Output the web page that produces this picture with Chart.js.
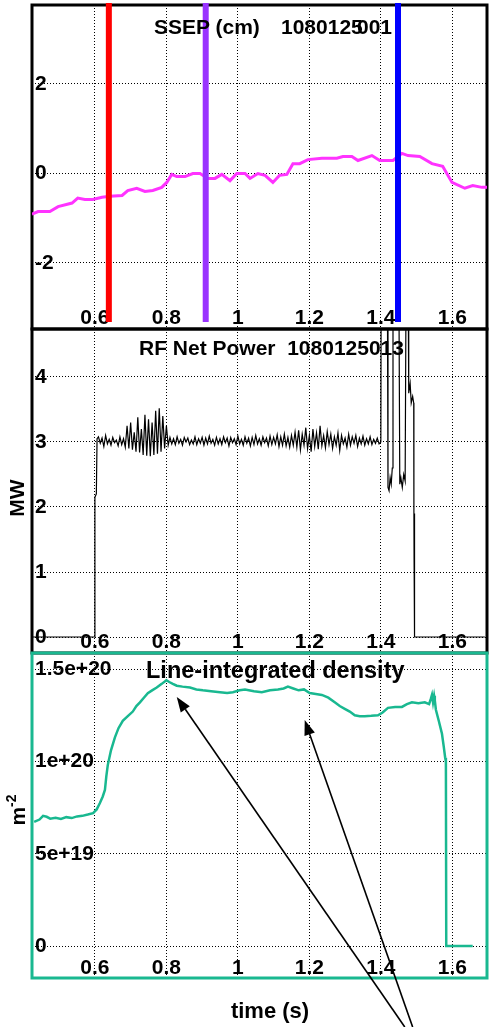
<!DOCTYPE html>
<html>
<head>
<meta charset="utf-8">
<title>SSEP / RF power / density</title>
<script src="https://cdn.jsdelivr.net/npm/chart.js@4.4.1/dist/chart.umd.min.js"></script>
<style>
  html, body { margin: 0; padding: 0; background: #fff; }
  #page { position: relative; width: 490px; height: 1027px; overflow: hidden; font-family: "Liberation Sans", Arial, sans-serif; }
  .layer { position: absolute; left: 0; top: 0; width: 490px; height: 1027px; }
  .txt { position: absolute; white-space: pre; color: #000; font-weight: bold; line-height: 1; }
  .rot { transform: translate(-50%, -50%) rotate(-90deg); }
  .mid { transform: translate(-50%, -50%); }
  sup { font-size: 14px; vertical-align: 9px; }
</style>
</head>
<body>
<div id="page">
  <div class="layer"><canvas id="sep-chart"></canvas></div>
  <div class="layer"><canvas id="rf-chart"></canvas></div>
  <div class="layer"><canvas id="den-chart"></canvas></div>

  <div class="txt" style="left:154px; top:15.5px; font-size:21px;">SSEP (cm)</div>
  <div class="txt" style="left:281px; top:15.5px; font-size:21px;">1080125</div>
  <div class="txt" style="left:357px; top:15.5px; font-size:21px;">001</div>
  <div class="txt" style="left:139px; top:336.5px; font-size:21px;">RF Net Power  1080125013</div>
  <div class="txt" style="left:146px; top:658.5px; font-size:23.5px;">Line-integrated density</div>
  <div class="txt rot" style="left:15.5px; top:498px; font-size:21px;">MW</div>
  <div class="txt rot" style="left:16px; top:810px; font-size:21px;">m<sup>-2</sup></div>
  <div class="txt mid" style="left:270px; top:1011px; font-size:22px;">time (s)</div>
</div>

<script>
// Shared time axis
const timeMin = 0.424;
const timeMax = 1.697;
const timeTicks = [0.6, 0.8, 1, 1.2, 1.4, 1.6];
const timeTickLabels = ['0.6', '0.8', '1', '1.2', '1.4', '1.6'];

// Panel 1: SSEP (cm)
const sepTicks = [-2, 0, 2];
const sepTickLabels = ['-2', '0', '2'];
const sepTimes = [0.424, 0.441, 0.474, 0.497, 0.536, 0.552, 0.572, 0.594, 0.620, 0.642,
  0.676, 0.692, 0.717, 0.740, 0.762, 0.787, 0.801, 0.815, 0.829, 0.852,
  0.874, 0.894, 0.916, 0.936, 0.955, 0.978, 0.997, 1.020, 1.034, 1.056,
  1.076, 1.098, 1.117, 1.137, 1.154, 1.173, 1.196, 1.235, 1.277, 1.294,
  1.319, 1.336, 1.375, 1.397, 1.434, 1.459, 1.476, 1.509, 1.543, 1.573,
  1.599, 1.635, 1.657, 1.683, 1.705];
const sepValues = [-0.91, -0.85, -0.85, -0.74, -0.66, -0.55, -0.58, -0.58, -0.53, -0.51,
  -0.49, -0.38, -0.33, -0.40, -0.38, -0.31, -0.20, -0.02, -0.07, -0.07,
  0, 0, -0.11, -0.11, -0.02, -0.16, 0, 0, -0.11, 0,
  -0.04, -0.20, -0.04, -0.02, 0.22, 0.22, 0.31, 0.34, 0.34, 0.38,
  0.38, 0.29, 0.40, 0.29, 0.29, 0.45, 0.40, 0.38, 0.22, 0.16,
  -0.20, -0.33, -0.27, -0.31, -0.31];
const markerTimes = [0.639, 0.91, 1.448];
const markerColors = ['#ff0000', '#9933ff', '#0000ff'];

// Panel 2: RF net power (MW)
const rfTicks = [0, 1, 2, 3, 4];
const rfTickLabels = ['0', '1', '2', '3', '4'];
const rfLeadTimes = [0.424, 0.600, 0.600, 0.604, 0.606];
const rfLeadValues = [0, 0, 2.15, 2.2, 3.05];
// sampled every 5 ms from 0.61 s to 1.395 s
const rfNoiseStart = 0.61;
const rfNoiseStep = 0.005;
const rfNoiseValues = [
  3.08, 2.98, 3.06, 2.93, 3.10, 2.97, 3.04, 2.95, 3.07, 2.99, 3.03, 2.94, 3.08, 2.96, 3.05, 2.92,
  3.25, 2.90, 3.30, 2.88, 3.15, 2.85, 3.38, 2.84, 3.20, 2.80, 3.42, 2.79, 3.35, 2.78, 3.30, 2.80,
  3.48, 2.82, 3.52, 2.85, 3.40, 2.90, 3.25, 2.95,
  3.07, 2.97, 3.05, 2.96, 3.08, 2.98, 3.04, 2.95, 3.07, 3.00, 3.06, 2.96, 3.03, 2.97, 3.08, 2.96,
  3.05, 2.98, 3.07, 2.95, 3.06, 2.97, 3.09, 2.98, 3.04, 2.95, 3.07, 2.97, 3.05, 2.96, 3.08, 2.99,
  3.06, 2.94, 3.07, 2.99, 3.05, 2.96, 3.09, 2.97, 3.04, 2.95, 3.08, 2.98, 3.06, 2.94, 3.07, 2.96,
  3.10, 2.97, 3.05, 2.95, 3.08, 2.99, 3.06, 2.94, 3.09, 2.96, 3.07, 2.97, 3.11, 2.93, 3.08, 2.95,
  3.12, 2.94, 3.07, 2.92, 3.10, 2.95,
  3.15, 2.92, 3.18, 2.88, 3.12, 2.95, 3.22, 2.90, 3.10, 2.85, 3.20, 2.93, 3.14, 2.89, 3.25, 2.94,
  3.10, 2.91, 3.16, 2.96, 3.12, 2.90, 3.08, 2.95, 3.14, 2.87, 3.10, 2.97, 3.06, 2.92, 3.12, 2.95,
  3.08, 2.98, 3.10, 2.93, 3.06, 2.97, 3.09, 2.95, 3.05, 2.97, 3.08, 2.96, 3.04, 2.98, 3.06, 2.97];
const rfTailTimes = [1.400, 1.401, 1.418, 1.420, 1.423, 1.426, 1.429, 1.432, 1.434, 1.450,
  1.453, 1.456, 1.460, 1.464, 1.468, 1.471, 1.476, 1.478, 1.482, 1.485,
  1.489, 1.492, 1.4925, 1.493, 1.4935, 1.494, 1.4945, 1.495, 1.691];
const rfTailValues = [3.0, 6, 6, 2.3, 2.25, 2.45, 2.35, 2.6, 6, 6,
  2.35, 2.45, 2.3, 2.5, 2.4, 6, 6, 3.75, 3.9, 3.6,
  3.7, 3.6, 1.95, 1.2, 1.9, 1.15, 1.5, 0, 0];

// Panel 3: line-integrated density (m^-2)
const denTicks = [0, 5e19, 1e20, 1.5e20];
const denTickLabels = ['0', '5e+19', '1e+20', '1.5e+20'];
const denTimes = [0.430, 0.445, 0.455, 0.465, 0.475, 0.490, 0.505, 0.520, 0.535, 0.550,
  0.565, 0.580, 0.595, 0.605, 0.614, 0.622, 0.628, 0.632, 0.636, 0.645,
  0.656, 0.666, 0.678, 0.692, 0.706, 0.716, 0.726, 0.737, 0.748, 0.760,
  0.773, 0.787, 0.800, 0.808, 0.818, 0.829, 0.845, 0.866, 0.884, 0.902,
  0.925, 0.950, 0.970, 0.986, 1.005, 1.020, 1.045, 1.067, 1.090, 1.112,
  1.128, 1.140, 1.155, 1.170, 1.185, 1.201, 1.218, 1.235, 1.253, 1.271,
  1.285, 1.299, 1.313, 1.327, 1.341, 1.355, 1.373, 1.392, 1.405, 1.420,
  1.440, 1.459, 1.473, 1.487, 1.505, 1.523, 1.535, 1.540, 1.543, 1.546,
  1.549, 1.551, 1.554, 1.562, 1.571, 1.576, 1.580, 1.582, 1.583, 1.657];
const denValues = [0.672e20, 0.685e20, 0.705e20, 0.700e20, 0.690e20, 0.695e20, 0.688e20, 0.698e20, 0.693e20, 0.702e20,
  0.705e20, 0.712e20, 0.720e20, 0.740e20, 0.775e20, 0.810e20, 0.845e20, 0.920e20, 0.980e20, 1.060e20,
  1.130e20, 1.180e20, 1.220e20, 1.245e20, 1.270e20, 1.300e20, 1.320e20, 1.345e20, 1.370e20, 1.385e20,
  1.400e20, 1.420e20, 1.440e20, 1.430e20, 1.420e20, 1.410e20, 1.405e20, 1.400e20, 1.390e20, 1.385e20,
  1.380e20, 1.375e20, 1.370e20, 1.375e20, 1.385e20, 1.390e20, 1.380e20, 1.375e20, 1.385e20, 1.390e20,
  1.395e20, 1.405e20, 1.395e20, 1.385e20, 1.390e20, 1.370e20, 1.365e20, 1.360e20, 1.345e20, 1.320e20,
  1.300e20, 1.285e20, 1.270e20, 1.250e20, 1.245e20, 1.245e20, 1.247e20, 1.250e20, 1.265e20, 1.290e20,
  1.295e20, 1.295e20, 1.310e20, 1.320e20, 1.315e20, 1.320e20, 1.310e20, 1.340e20, 1.360e20, 1.320e20,
  1.355e20, 1.330e20, 1.280e20, 1.220e20, 1.150e20, 1.080e20, 1.020e20, 1.000e20, 0, 0];
// annotation arrows (time, density) from tail to tip
const arrowTips = [[0.829, 1.349e20], [1.187, 1.224e20]];
const arrowTails = [[1.467, -4.39e19], [1.489, -4.39e19]];

const tickFont = { family: '"Liberation Sans", Arial, sans-serif', size: 21, weight: 'bold', lineHeight: 1.2 };

function pairs(xs, ys) {
    return xs.map((x, i) => ({ x: x, y: ys[i] }));
}

function fixedTicks(values) {
    return axis => { axis.ticks = values.map(v => ({ value: v })); };
}

function noPadding(axis) {
    axis.paddingLeft = 0;
    axis.paddingRight = 0;
    axis.paddingTop = 0;
    axis.paddingBottom = 0;
}

// Frame round the plot area
const framePlugin = {
    id: 'frame',
    beforeDatasetsDraw(chart, args, opts) {
        const a = chart.chartArea;
        const ctx = chart.ctx;
        ctx.save();
        ctx.strokeStyle = opts.color;
        ctx.lineWidth = opts.width;
        ctx.strokeRect(a.left, a.top, a.right - a.left, a.bottom - a.top);
        ctx.restore();
    }
};

// Arrows pointing at the density trace
const arrowPlugin = {
    id: 'arrows',
    afterDraw(chart) {
        const { ctx, scales: { x, y } } = chart;
        ctx.save();
        ctx.strokeStyle = '#000';
        ctx.fillStyle = '#000';
        ctx.lineWidth = 1.6;
        arrowTips.forEach((tip, i) => {
            const x1 = x.getPixelForValue(arrowTails[i][0]);
            const y1 = y.getPixelForValue(arrowTails[i][1]);
            const x2 = x.getPixelForValue(tip[0]);
            const y2 = y.getPixelForValue(tip[1]);
            const ang = Math.atan2(y2 - y1, x2 - x1);
            const len = 15, half = 5.5;
            const bx = x2 - len * Math.cos(ang);
            const by = y2 - len * Math.sin(ang);
            ctx.beginPath();
            ctx.moveTo(x1, y1);
            ctx.lineTo(bx, by);
            ctx.stroke();
            ctx.beginPath();
            ctx.moveTo(x2, y2);
            ctx.lineTo(bx + half * Math.sin(ang), by - half * Math.cos(ang));
            ctx.lineTo(bx - half * Math.sin(ang), by + half * Math.cos(ang));
            ctx.closePath();
            ctx.fill();
        });
        ctx.restore();
    }
};

function panelOptions(cfg) {
    return {
        responsive: true,
        maintainAspectRatio: false,
        animation: false,
        events: [],
        layout: { padding: cfg.padding },
        plugins: {
            legend: { display: false },
            tooltip: { enabled: false },
            frame: { color: cfg.frameColor, width: 3 }
        },
        scales: {
            x: {
                type: 'linear',
                axis: 'x',
                min: timeMin,
                max: timeMax,
                position: { y: cfg.xLabelAt },
                afterBuildTicks: fixedTicks(timeTicks),
                afterFit: noPadding,
                grid: { color: '#000', lineWidth: 1, drawTicks: false },
                border: { display: false, dash: [1, 2] },
                ticks: {
                    padding: 0, maxRotation: 0, autoSkip: false, color: '#000', font: tickFont,
                    callback: (v, i) => timeTickLabels[i]
                }
            },
            y: {
                type: 'linear',
                position: 'left',
                min: cfg.yMin,
                max: cfg.yMax,
                afterBuildTicks: fixedTicks(cfg.yTicks),
                afterFit: axis => { noPadding(axis); axis.width = 0; },
                grid: { color: '#000', lineWidth: 1, drawTicks: false },
                border: { display: false, dash: [1, 2] },
                ticks: {
                    mirror: true, padding: 3, color: '#000', font: tickFont,
                    callback: (v, i) => cfg.yLabels[i]
                }
            }
        }
    };
}

function createSepChart() {
    const markerTop = 3.81;
    const markerBottom = -3.32;
    const markers = markerTimes.map((t, i) => ({
        data: [{ x: t, y: markerTop }, { x: t, y: markerBottom }],
        borderColor: markerColors[i],
        borderWidth: 6,
        borderCapStyle: 'butt',
        pointRadius: 0,
        clip: false,
        order: 0
    }));
    new Chart(document.getElementById('sep-chart'), {
        type: 'line',
        data: {
            datasets: [{
                data: pairs(sepTimes, sepValues),
                borderColor: '#ff33ff',
                borderWidth: 3,
                pointRadius: 0,
                order: 1
            }].concat(markers)
        },
        options: panelOptions({
            padding: { left: 32, right: 3, top: 5, bottom: 698 },
            frameColor: '#000',
            xLabelAt: -2.947,
            yMin: -3.475, yMax: 3.765,
            yTicks: sepTicks, yLabels: sepTickLabels
        }),
        plugins: [framePlugin]
    });
}

function createRfChart() {
    const noise = rfNoiseValues.map((v, i) => ({ x: rfNoiseStart + i * rfNoiseStep, y: v }));
    const points = pairs(rfLeadTimes, rfLeadValues).concat(noise, pairs(rfTailTimes, rfTailValues));
    new Chart(document.getElementById('rf-chart'), {
        type: 'line',
        data: {
            datasets: [{
                data: points,
                borderColor: '#000',
                borderWidth: 1.2,
                pointRadius: 0
            }]
        },
        options: panelOptions({
            padding: { left: 32, right: 3, top: 329, bottom: 374 },
            frameColor: '#000',
            xLabelAt: 0.117,
            yMin: -0.246, yMax: 4.738,
            yTicks: rfTicks, yLabels: rfTickLabels
        }),
        plugins: [framePlugin]
    });
}

function createDensityChart() {
    new Chart(document.getElementById('den-chart'), {
        type: 'line',
        data: {
            datasets: [{
                data: pairs(denTimes, denValues),
                borderColor: '#19b890',
                borderWidth: 2.5,
                pointRadius: 0
            }]
        },
        options: panelOptions({
            padding: { left: 32, right: 3, top: 653, bottom: 49 },
            frameColor: '#19b890',
            xLabelAt: -5.09e18,
            yMin: -1.733e19, yMax: 1.5872e20,
            yTicks: denTicks, yLabels: denTickLabels
        }),
        plugins: [framePlugin, arrowPlugin]
    });
}

createSepChart();
createRfChart();
createDensityChart();
</script>
</body>
</html>
